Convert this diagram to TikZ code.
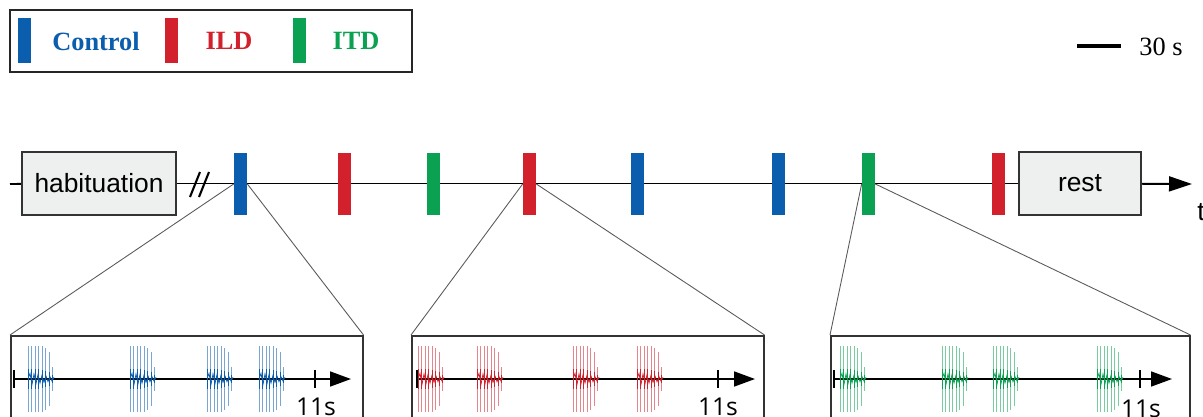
\documentclass[tikz,border=0pt]{standalone}
\usepackage{fontspec}
\setmainfont{Liberation Serif}
\newfontfamily\labelfont{Liberation Sans}
\newfontfamily\tickfont{Open Sans}
\usetikzlibrary{arrows.meta,backgrounds}

\definecolor{ctrlblue}{RGB}{11,93,174}
\definecolor{ildred}{RGB}{210,32,44}
\definecolor{itdgreen}{RGB}{11,161,82}
\definecolor{boxgray}{RGB}{238,239,239}

% one burst of clicks: left x, colour
\newcommand{\burst}[2]{%
  \foreach \dx/\h/\c in {0/33/10,3.5/33/10,7/33/10,10.5/33/10,14/33/9,17.5/31/8,21/27/7,24.5/12/4} {
    \draw[#2,line width=0.4pt,opacity=0.55] ({#1+\dx},{379-\h}) -- ({#1+\dx},{379+\h});
    \draw[#2,line width=0.5pt] ({#1+\dx},{379-\c}) -- ({#1+\dx},{379+\c});
  }
  \draw[#2,line width=0.45pt] (#1,379) \foreach \k in {1,...,13}{ -- ({#1+2*\k},{379+(1-2*mod(\k,2))*(6-\k/3)}) };
}

\begin{document}
\begin{tikzpicture}[x=0.02cm,y=-0.02cm,
    stage/.style={draw=black!80,fill=boxgray,line width=0.9pt,minimum height=1.26cm,inner sep=0pt,
      font=\labelfont\fontsize{15}{18}\selectfont},
    stim/.style={fill=#1,minimum width=0.26cm,minimum height=1.24cm,inner sep=0pt},
    key/.style={fill=#1,minimum width=0.26cm,minimum height=0.9cm,inner sep=0pt},
    keytext/.style={text=#1,font=\bfseries\fontsize{15}{18}\selectfont},
    zoombox/.style={draw=black!80,line width=0.9pt,anchor=north west,minimum height=2.4cm,inner sep=0pt},
    zoomline/.style={draw=black!65,line width=0.5pt},
    tickmark/.style={line width=1.5pt},
    ticktext/.style={font=\tickfont\fontsize{14}{16}\selectfont,anchor=north,inner sep=0pt}]

\useasboundingbox (0,0) rectangle (1203,416);
\clip (0,0) rectangle (1203,416);

% legend
\node[draw=black!85,line width=0.7pt,minimum width=8.04cm,minimum height=1.24cm] (legend) at (211,41) {};
\node[key=ctrlblue] (kctrl) at (24.5,40.5) {};
\node[keytext=ctrlblue] (kctrltext) at (96,41) {Control};
\node[key=ildred] (kild) at (171.5,40.5) {};
\node[keytext=ildred] (kildtext) at (229,41) {ILD};
\node[key=itdgreen] (kitd) at (299.5,40.5) {};
\node[keytext=itdgreen] (kitdtext) at (356,41) {ITD};

% scale bar
\coordinate (sb0) at (1077,46);
\coordinate (sb1) at (1121,46);
\draw[line width=2.3pt] (sb0) -- (sb1);
\node[font=\fontsize{15}{18}\selectfont] (sbtext) at (1161,47) {30 s};

% time line
\coordinate (t0) at (10,184);
\coordinate (t1) at (1192,184);
\node[stage,minimum width=3.08cm] (hab) at (99,183.5) {habituation};
\node[stage,minimum width=2.44cm] (rest) at (1080,183.5) {rest};
\node[stim=ctrlblue] (s1) at (240.5,184) {};
\node[stim=ildred] (s2) at (344.5,184) {};
\node[stim=itdgreen] (s3) at (433.5,184) {};
\node[stim=ildred] (s4) at (529.5,184) {};
\node[stim=ctrlblue] (s5) at (637.5,184) {};
\node[stim=ctrlblue] (s6) at (778.5,184) {};
\node[stim=itdgreen] (s7) at (868.5,184) {};
\node[stim=ildred] (s8) at (998.5,184) {};
\node[font=\labelfont\fontsize{15}{18}\selectfont] (tlabel) at (1201,212) {t};
\begin{scope}[on background layer]
  \draw[line width=1.1pt] (t0) -- (hab);
  \draw[line width=1.1pt] (hab) -- (rest);
  \draw[line width=1.1pt,-{Triangle[length=0.46cm,width=0.3cm]}] (rest) -- (t1);
\end{scope}
\draw[line width=1.2pt] (190,197) -- (200,172);
\draw[line width=1.2pt] (199,197) -- (209,172);

% zoomed stimuli
\node[zoombox,minimum width=7.04cm] (box1) at (10,335) {};
\node[zoombox,minimum width=7.04cm] (box2) at (411,335) {};
\node[zoombox,minimum width=7.18cm] (box3) at (830,335) {};
\draw[zoomline] (s1.west) -- (box1.north west);
\draw[zoomline] (s1.east) -- (box1.north east);
\draw[zoomline] (s4.west) -- (box2.north west);
\draw[zoomline] (s4.east) -- (box2.north east);
\draw[zoomline] (s7.west) -- (box3.north west);
\draw[zoomline] (s7.east) -- (box3.north east);

\coordinate (a1) at (14,379);  \coordinate (e1) at (315,379);  \coordinate (z1) at (351,379);
\coordinate (a2) at (417,379); \coordinate (e2) at (718,379);  \coordinate (z2) at (755,379);
\coordinate (a3) at (834,379); \coordinate (e3) at (1140,379); \coordinate (z3) at (1172,379);
\foreach \i in {1,2,3} {
  \draw[line width=0.9pt,-{Triangle[length=0.42cm,width=0.3cm]}] (a\i) -- (z\i);
  \draw[tickmark] (a\i) ++(0,-9) -- ++(0,18);
  \draw[tickmark] (e\i) ++(0,-9) -- ++(0,18);
}
\node[ticktext] (l1) at (316,398) {11s};
\node[ticktext] (l2) at (718,398) {11s};
\node[ticktext] (l3) at (1141,400) {11s};

\burst{28}{ctrlblue} \burst{130}{ctrlblue} \burst{207}{ctrlblue} \burst{259}{ctrlblue}
\burst{418}{ildred} \burst{477}{ildred} \burst{573}{ildred} \burst{637}{ildred}
\burst{840}{itdgreen} \burst{942}{itdgreen} \burst{993}{itdgreen} \burst{1097}{itdgreen}
\end{tikzpicture}
\end{document}
